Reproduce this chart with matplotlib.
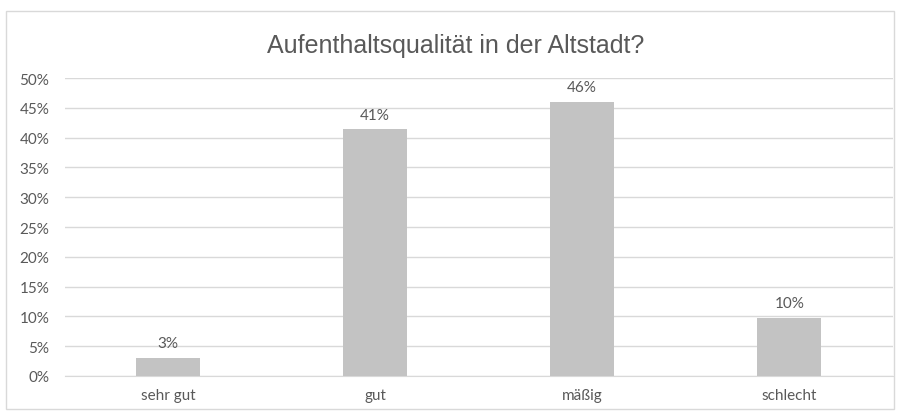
import matplotlib.pyplot as plt
from matplotlib.patches import Rectangle
from matplotlib.ticker import PercentFormatter

categories = ["sehr gut", "gut", "mäßig", "schlecht"]
values = [3, 41.4, 46, 9.7]
value_labels = ["3%", "41%", "46%", "10%"]
yticks = [0, 5, 10, 15, 20, 25, 30, 35, 40, 45, 50]

fig = plt.figure(figsize=(9, 4.14), dpi=100)
fig.patches.append(Rectangle((0.007, 0.01), 0.986, 0.962, transform=fig.transFigure,
                             fill=False, edgecolor="#d9d9d9", linewidth=1))

ax = fig.add_axes([0.0717, 0.0894, 0.9203, 0.7196])
x = range(len(categories))
bars = ax.bar(x, values, width=0.31, color="#c3c3c3", zorder=3)
for b, lab in zip(bars, value_labels):
    ax.text(b.get_x() + b.get_width() / 2, b.get_height() + 1.3, lab,
            ha="center", va="bottom", fontsize=11, color="#595959", family="Lato")

ax.set_xlim(-0.5, len(categories) - 0.5)
ax.set_ylim(0, 50)
ax.set_yticks(yticks)
ax.yaxis.set_major_formatter(PercentFormatter(decimals=0))
ax.set_xticks(list(x))
ax.set_xticklabels(categories)
ax.grid(axis="y", color="#d9d9d9", linewidth=1, zorder=0)
for s in ["top", "right", "left"]:
    ax.spines[s].set_visible(False)
ax.spines["bottom"].set_color("#d9d9d9")
ax.tick_params(length=0, labelsize=11, labelcolor="#595959", pad=9)
for t in ax.get_xticklabels() + ax.get_yticklabels():
    t.set_family("Lato")
ax.tick_params(axis="y", pad=11)

fig.text(0.506, 0.89, "Aufenthaltsqualität in der Altstadt?", ha="center", va="center",
         fontsize=18, color="#595959", family="Liberation Sans")

fig.savefig("out.png", dpi=100)
